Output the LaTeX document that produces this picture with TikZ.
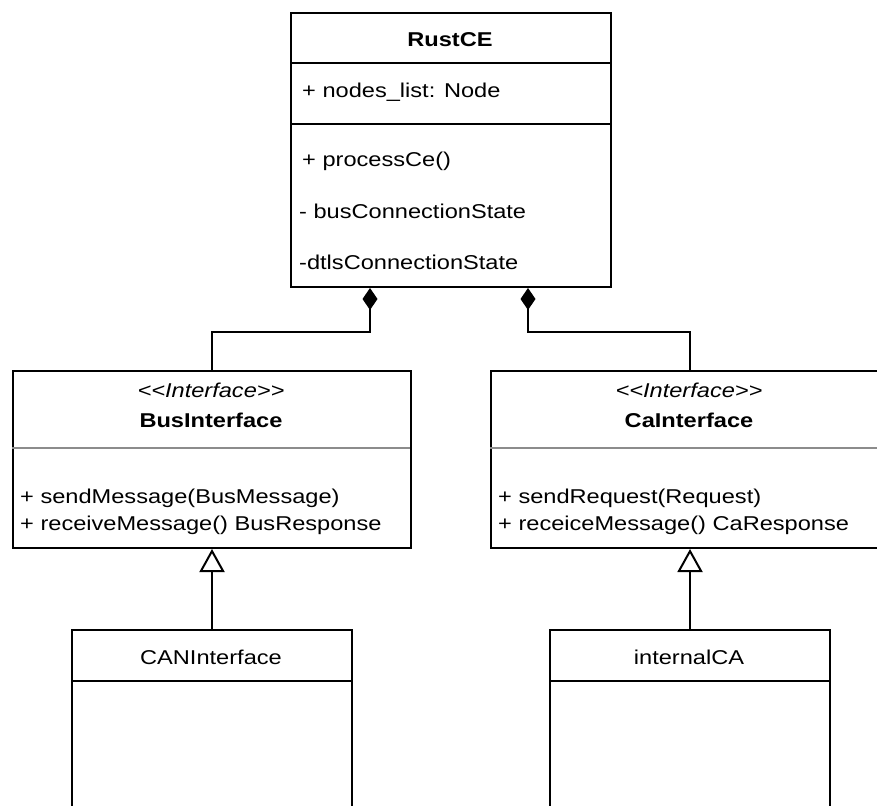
\documentclass[tikz,border=0pt]{standalone}
\usepackage{fontspec}
\setmainfont{Liberation Sans}[FakeStretch=1.18]
\usetikzlibrary{arrows.meta}
\begin{document}
\begin{tikzpicture}[x=1pt,y=-1pt,
  umlbox/.style={draw=black, line width=2pt, fill=white, inner sep=0pt, anchor=north west},
  umltext/.style={inner sep=0pt, font=\fontsize{20}{24}\selectfont},
  lefttext/.style={umltext, anchor=base west},
  midtext/.style={umltext, anchor=base},
  divider/.style={draw=black, line width=2pt},
  softdivider/.style={draw=black!45, line width=2pt},
  composition/.style={draw=black, line width=2pt, {Diamond[length=22pt,width=15pt]}-},
  realization/.style={draw=black, line width=2pt, -{Triangle[open,length=23pt,width=25pt,fill=white]}},
]
\useasboundingbox (0,0) rectangle (877,805);
\clip (0,0) rectangle (877,805);

% ---------- RustCE class ----------
\node[umlbox, minimum width=320pt, minimum height=274pt] (rust) at (290,12) {};
\draw[divider] (290,63) -- (610,63);
\draw[divider] (290,124) -- (610,124);
\node[midtext] (rustname) at (450,46.5) {\bfseries RustCE};
\node[lefttext] (rustattr) at (302,97.5) {+ nodes\_list: Node};
\node[lefttext] (rustop1) at (302,167) {+ processCe()};
\node[lefttext] (rustop2) at (299,218) {- busConnectionState};
\node[lefttext] (rustop3) at (299,269) {-dtlsConnectionState};

% ---------- BusInterface ----------
\node[umlbox, minimum width=398pt, minimum height=177pt] (bus) at (12,370) {};
\draw[softdivider] (12,448) -- (410,448);
\node[midtext] (busstereo) at (211,397) {\itshape <\kern0pt<Interface>\kern0pt>};
\node[midtext] (busname) at (211,427.5) {\bfseries BusInterface};
\node[lefttext] (busop1) at (20,503.5) {+ sendMessage(BusMessage)};
\node[lefttext] (busop2) at (20,530) {+ receiveMessage() BusResponse};

% ---------- CaInterface ----------
\node[umlbox, minimum width=398pt, minimum height=177pt] (ca) at (490,370) {};
\draw[softdivider] (490,448) -- (888,448);
\node[midtext] (castereo) at (689,397) {\itshape <\kern0pt<Interface>\kern0pt>};
\node[midtext] (caname) at (689,427.5) {\bfseries CaInterface};
\node[lefttext] (caop1) at (498,503.5) {+ sendRequest(Request)};
\node[lefttext] (caop2) at (498,530) {+ receiceMessage() CaResponse};

% ---------- implementing classes ----------
\node[umlbox, minimum width=280pt, minimum height=220pt] (can) at (71,629) {};
\draw[divider] (71,681) -- (351,681);
\node[midtext] (canname) at (211,664.5) {CANInterface};

\node[umlbox, minimum width=280pt, minimum height=220pt] (internal) at (549,629) {};
\draw[divider] (549,681) -- (829,681);
\node[midtext] (internalname) at (689,664.5) {internalCA};

% ---------- relations ----------
\path (rust.south west) ++(80,0) coordinate (rustL);
\path (rust.south west) ++(238,0) coordinate (rustR);
\draw[composition] (rustL) -- ++(0,44) -| (bus.north);
\draw[composition] (rustR) -- ++(0,44) -| (ca.north);
\draw[realization] (can.north) -- (bus.south);
\draw[realization] (internal.north) -- (ca.south);
\end{tikzpicture}
\end{document}
